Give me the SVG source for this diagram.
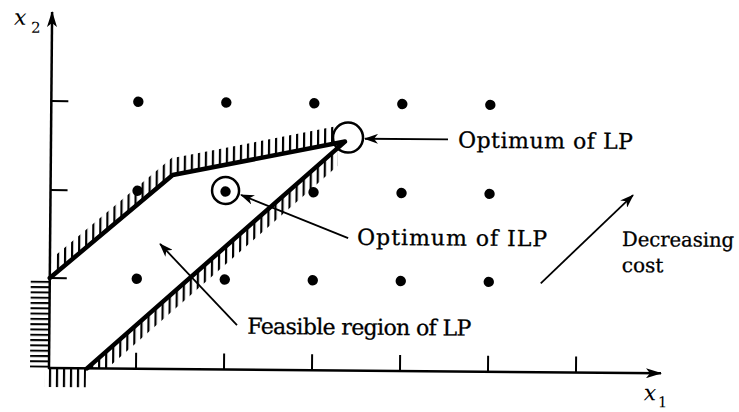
<svg xmlns="http://www.w3.org/2000/svg" width="739" height="412" viewBox="0 0 739 412">
<style>
.ax{stroke:#000;stroke-width:2.5;fill:none}
.tk{stroke:#000;stroke-width:2;fill:none}
.bd{stroke:#000;stroke-width:4.5;fill:none;stroke-linejoin:round;stroke-linecap:round}
.dot{fill:#000}
.ring{fill:none;stroke:#000;stroke-width:2.5}
.ar{stroke:#000;stroke-width:1.8;fill:none;marker-end:url(#ah)}
.lb{font-family:"DejaVu Serif","Liberation Serif",serif;font-size:22px;fill:#000;stroke:#000;stroke-width:0.3}
.var{font-family:"DejaVu Serif","Liberation Serif",serif;font-style:italic;font-size:22px;fill:#000}
.sub{font-family:"DejaVu Serif","Liberation Serif",serif;font-size:15px;fill:#000}
</style>
<defs>
<marker id="ah" viewBox="0 0 14 10" refX="13" refY="5" markerWidth="14" markerHeight="10" markerUnits="userSpaceOnUse" orient="auto">
<path d="M0,0 L14,5 L0,10 L4,5 z" fill="#000"/>
</marker>
<marker id="axh" viewBox="0 0 16 10" refX="15" refY="5" markerWidth="16" markerHeight="10" markerUnits="userSpaceOnUse" orient="auto">
<path d="M0,0 L16,5 L0,10 L4,5 z" fill="#000"/>
</marker>
<pattern id="vh" width="7" height="10" patternUnits="userSpaceOnUse"><rect x="0" y="0" width="2.2" height="10" fill="#000"/></pattern>
<pattern id="hh" width="10" height="5.3" patternUnits="userSpaceOnUse"><rect x="0" y="0" width="10" height="2" fill="#000"/></pattern>
</defs>
<g transform="rotate(0.5 49 368)">
<g id="axes">
<line class="ax" x1="49" y1="369" x2="49" y2="12" style="marker-end:url(#axh)"/>
<line class="ax" x1="48" y1="368" x2="661" y2="368" style="marker-end:url(#axh)"/>
<path class="tk" d="M136,368v-16M224,368v-16M312,368v-16M400,368v-16M488,368v-16M576,368v-16M49,101h17M49,190h17M49,278h17"/>
<text class="var" x="11" y="25">x</text><text class="sub" x="28" y="33">2</text>
<text class="var" x="644" y="395">x</text><text class="sub" x="658" y="402">1</text>
</g>
<g id="feasible-region">
<rect x="30" y="280" width="19" height="88" fill="url(#hh)"/>
<rect x="45" y="368" width="41" height="19" fill="url(#vh)"/>
<polygon points="54,273.7 171,174 171,156 54,255.7" fill="url(#vh)"/>
<polygon points="171,174 334,140.8 334,123.8 171,157" fill="url(#vh)"/>
<polygon points="90,365.3 336,145.3 336,163.3 107.1,368 90,368" fill="url(#vh)"/>
<path class="bd" d="M49,278 L171,174 L343,139 L87,368"/>
</g>
<g id="lattice">
<circle class="dot" cx="136" cy="101" r="5.2"/><circle class="dot" cx="224" cy="101" r="5.2"/><circle class="dot" cx="312" cy="101" r="5.2"/><circle class="dot" cx="400" cy="101" r="5.2"/><circle class="dot" cx="488" cy="101" r="5.2"/>
<circle class="dot" cx="136" cy="190" r="5.2"/><circle class="dot" cx="224" cy="190" r="5.2"/><circle class="dot" cx="312" cy="190" r="5.2"/><circle class="dot" cx="400" cy="190" r="5.2"/><circle class="dot" cx="488" cy="190" r="5.2"/>
<circle class="dot" cx="136" cy="278" r="5.2"/><circle class="dot" cx="224" cy="278" r="5.2"/><circle class="dot" cx="312" cy="278" r="5.2"/><circle class="dot" cx="400" cy="278" r="5.2"/><circle class="dot" cx="488" cy="278" r="5.2"/>
</g>
<g id="lp-optimum">
<circle class="ring" cx="346" cy="135" r="15"/>
<text class="lb" x="456" y="144" textLength="175" lengthAdjust="spacing">Optimum of LP</text>
</g>
<g id="ilp-optimum">
<circle class="ring" cx="224" cy="189" r="13.5"/>
<text class="lb" x="356" y="242" textLength="190" lengthAdjust="spacing">Optimum of ILP</text>
</g>
<g id="feasible-label">
<text class="lb" x="247" y="332" textLength="224" lengthAdjust="spacing">Feasible region of LP</text>
</g>
<g id="cost-label">
<text class="lb" x="621" y="241" style="font-size:20px" textLength="112" lengthAdjust="spacingAndGlyphs">Decreasing</text>
<text class="lb" x="621" y="267" style="font-size:20px">cost</text>
</g>
<g id="connectors">
<line class="ar" x1="446" y1="136" x2="363" y2="136"/>
<line class="ar" x1="347" y1="235.5" x2="239.5" y2="193.3"/>
<line class="ar" x1="236.6" y1="323.4" x2="159" y2="243"/>
<line class="ar" x1="540" y1="279" x2="631.5" y2="190"/>
</g>
</g>
</svg>
